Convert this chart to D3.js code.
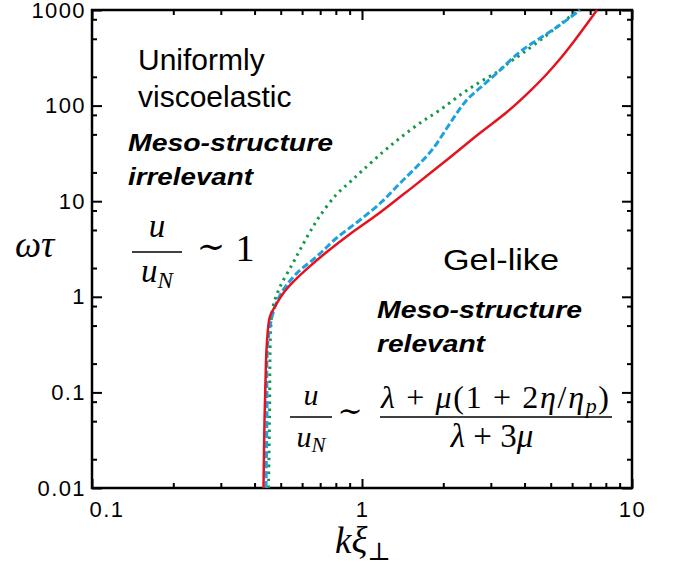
<!DOCTYPE html>
<html>
<head>
<meta charset="utf-8">
<script src="https://cdn.jsdelivr.net/npm/d3@7"></script>
<style>
body { margin: 0; background: #fff; }
svg { display: block; }
.sans { font-family: "Liberation Sans", Arial, Helvetica, sans-serif; }
.math { font-family: "Liberation Serif", "DejaVu Serif", serif; }
</style>
</head>
<body>
<svg id="chart"></svg>
<script>
// curve data: k xi (x) and omega tau (y)
var redK = [0.4317, 0.4355, 0.4393, 0.4436, 0.456, 0.476, 0.511, 0.557, 0.624, 0.740, 0.903, 1.133, 1.382, 1.549, 2.06, 2.735, 3.444, 4.19, 4.76, 5.41, 6.15, 7.42];
var redW = [0.01, 0.0514, 0.135, 0.30, 0.62, 0.79, 1.09, 1.44, 1.95, 2.94, 4.54, 7.17, 11.07, 14.2, 27.0, 51.7, 85.7, 142, 204, 307, 486, 1000];

var blueK = [0.441, 0.4446, 0.449, 0.476, 0.511, 0.573, 0.679, 0.805, 0.983, 1.181, 1.382, 1.64, 1.837, 2.06, 2.243, 2.44, 2.735, 3.155, 3.85, 4.56, 5.41, 6.42];
var blueW = [0.01, 0.0514, 0.353, 0.787, 1.18, 1.76, 2.63, 4.12, 6.36, 9.81, 15.4, 24.9, 35.8, 57.9, 83.1, 114, 153, 218, 366, 506, 697, 1000];

var greenK = [0.4505, 0.4544, 0.459, 0.468, 0.497, 0.550, 0.589, 0.641, 0.698, 0.801, 0.903, 1.009, 1.196, 1.382, 1.64, 1.945, 2.366, 2.735, 3.162, 3.532, 3.948, 4.84, 6.31];
var greenW = [0.01, 0.0514, 0.45, 0.782, 1.27, 2.15, 3.09, 4.76, 7.0, 11.6, 15.9, 21.2, 32.7, 45.8, 65.8, 90, 135.5, 176.5, 224.7, 286, 355, 548, 1000];

var xMajor = [0.1, 1, 10];
var xLabels = ["0.1", "1", "10"];
var yMajor = [0.01, 0.1, 1, 10, 100, 1000];
var yLabels = ["0.01", "0.1", "1", "10", "100", "1000"];
var xMinorMult = [2, 3, 4, 5, 6, 7, 8, 9];
var yMinorMult = [2, 5, 8];

var W = 674, H = 566;
var padL = 92, padR = 632, padT = 10, padB = 488;

var svg = d3.select("#chart").attr("width", W).attr("height", H);
svg.append("rect").attr("width", W).attr("height", H).attr("fill", "#fff");

var x = d3.scaleLog().domain([0.1, 10]).range([padL, padR]);
var y = d3.scaleLog().domain([0.01, 1000]).range([padB, padT]);

function minors(majors, mult) {
    var out = [];
    majors.slice(0, -1).forEach(function(m) {
        mult.forEach(function(k) { out.push(m * k); });
    });
    return out;
}

function addAxis(axisFn, scale, vals, size, tr, fmt, pad) {
    var a = axisFn(scale).tickValues(vals).tickSize(-size).tickSizeOuter(0)
        .tickPadding(pad || 3)
        .tickFormat(fmt || function() { return ""; });
    var g = svg.append("g").attr("transform", tr).call(a);
    g.select(".domain").remove();
    g.selectAll(".tick line").attr("stroke", "#000").attr("stroke-width", 2);
    g.selectAll(".tick text")
        .attr("fill", "#000")
        .style("font-family", '"Liberation Sans", Arial, Helvetica, sans-serif')
        .style("font-size", "22px")
        .style("letter-spacing", "1.4px");
    return g;
}

// bottom / top
var gb = addAxis(d3.axisBottom, x, xMajor, 9, "translate(0," + padB + ")", function(d, i) { return xLabels[i]; }, 13);
gb.selectAll(".tick text").filter(function(d) { return d === 0.1; })
    .attr("text-anchor", "start").attr("x", -3);
addAxis(d3.axisBottom, x, minors(xMajor, xMinorMult), 5, "translate(0," + padB + ")");
addAxis(d3.axisTop, x, xMajor, 10, "translate(0," + padT + ")");
addAxis(d3.axisTop, x, minors(xMajor, xMinorMult), 5, "translate(0," + padT + ")");

// left / right
addAxis(d3.axisLeft, y, yMajor, 10, "translate(" + padL + ",0)", function(d, i) { return yLabels[i]; }, 6);
addAxis(d3.axisLeft, y, minors(yMajor, yMinorMult), 5, "translate(" + padL + ",0)");
addAxis(d3.axisRight, y, yMajor, 10, "translate(" + padR + ",0)");
addAxis(d3.axisRight, y, minors(yMajor, yMinorMult), 5, "translate(" + padR + ",0)");

svg.append("rect")
    .attr("x", padL).attr("y", padT)
    .attr("width", padR - padL).attr("height", padB - padT)
    .attr("fill", "none").attr("stroke", "#000").attr("stroke-width", 2.5);

// curves
var line = d3.line()
    .x(function(d) { return x(d[0]); })
    .y(function(d) { return y(d[1]); })
    .curve(d3.curveCatmullRom.alpha(0.5));

function pairs(a, b) { return a.map(function(v, i) { return [v, b[i]]; }); }

svg.append("path").datum(pairs(greenK, greenW))
    .attr("d", line).attr("fill", "none")
    .attr("stroke", "#13994a").attr("stroke-width", 3)
    .attr("stroke-dasharray", "2.5,4.5");
svg.append("path").datum(pairs(blueK, blueW))
    .attr("d", line).attr("fill", "none")
    .attr("stroke", "#1ea0e2").attr("stroke-width", 3)
    .attr("stroke-dasharray", "7,3");
svg.append("path").datum(pairs(redK, redW))
    .attr("d", line).attr("fill", "none")
    .attr("stroke", "#e3141f").attr("stroke-width", 2.5);

// axis titles
svg.append("text").attr("class", "math").attr("x", 15).attr("y", 257)
    .attr("font-size", 37).attr("font-style", "italic").text("ωτ");
var xt = svg.append("text").attr("class", "math").attr("x", 335).attr("y", 553)
    .attr("font-size", 37);
xt.append("tspan").attr("font-style", "italic").text("kξ");
xt.append("tspan").attr("font-size", 25).attr("dy", 7).text("⊥");

// region labels
function label(txt, x0, y0, size) {
    return svg.append("text").attr("class", "sans").attr("x", x0).attr("y", y0)
        .attr("font-size", size).attr("fill", "#000").text(txt);
}
function boldLabel(txt, x0, y0, len) {
    return label(txt, x0, y0, 24)
        .attr("font-weight", "bold").attr("font-style", "italic")
        .attr("textLength", len).attr("lengthAdjust", "spacingAndGlyphs");
}
label("Uniformly", 138, 70, 30);
label("viscoelastic", 138, 107, 30);
boldLabel("Meso-structure", 128, 151, 205);
boldLabel("irrelevant", 128, 185, 125);
label("Gel-like", 443, 270, 30).attr("textLength", 116).attr("lengthAdjust", "spacingAndGlyphs");
boldLabel("Meso-structure", 377, 318, 205);
boldLabel("relevant", 377, 352, 108);

// formulas
function mtext(x0, y0, size, anchor) {
    return svg.append("text").attr("class", "math").attr("x", x0).attr("y", y0)
        .attr("font-size", size).attr("text-anchor", anchor || "middle").attr("fill", "#000");
}
function bar(x1, x2, yy) {
    svg.append("line").attr("x1", x1).attr("x2", x2).attr("y1", yy).attr("y2", yy)
        .attr("stroke", "#000").attr("stroke-width", 1.4);
}
function uN(x0, y0, size) {
    var t = mtext(x0, y0, size);
    t.append("tspan").attr("font-style", "italic").text("u");
    t.append("tspan").attr("font-style", "italic").attr("font-size", size * 0.7).attr("dy", size * 0.18).text("N");
}

// u/u_N ~ 1
mtext(157, 237, 33).attr("font-style", "italic").text("u");
bar(132, 182, 252);
uN(157, 282, 33);
mtext(211, 258, 34).text("∼");
mtext(245, 261, 38).text("1");

// u/u_N ~ (lambda + mu(1 + 2 eta/eta_p)) / (lambda + 3 mu)
mtext(311, 405, 30).attr("font-style", "italic").text("u");
bar(290, 332, 417);
uN(311, 447, 30);
mtext(350, 421, 30).text("∼");

var num = mtext(495, 408, 32).attr("textLength", 228).attr("lengthAdjust", "spacing");
num.append("tspan").attr("font-style", "italic").text("λ");
num.append("tspan").text(" + ");
num.append("tspan").attr("font-style", "italic").text("μ");
num.append("tspan").text("(1 + 2");
num.append("tspan").attr("font-style", "italic").text("η");
num.append("tspan").text("/");
num.append("tspan").attr("font-style", "italic").text("η");
num.append("tspan").attr("font-style", "italic").attr("font-size", 22).attr("dy", 5).text("p");
num.append("tspan").attr("dy", -5).text(")");
bar(380, 612, 417);
var den = mtext(492, 447, 33);
den.append("tspan").attr("font-style", "italic").text("λ");
den.append("tspan").text(" + 3");
den.append("tspan").attr("font-style", "italic").text("μ");
</script>
</body>
</html>
